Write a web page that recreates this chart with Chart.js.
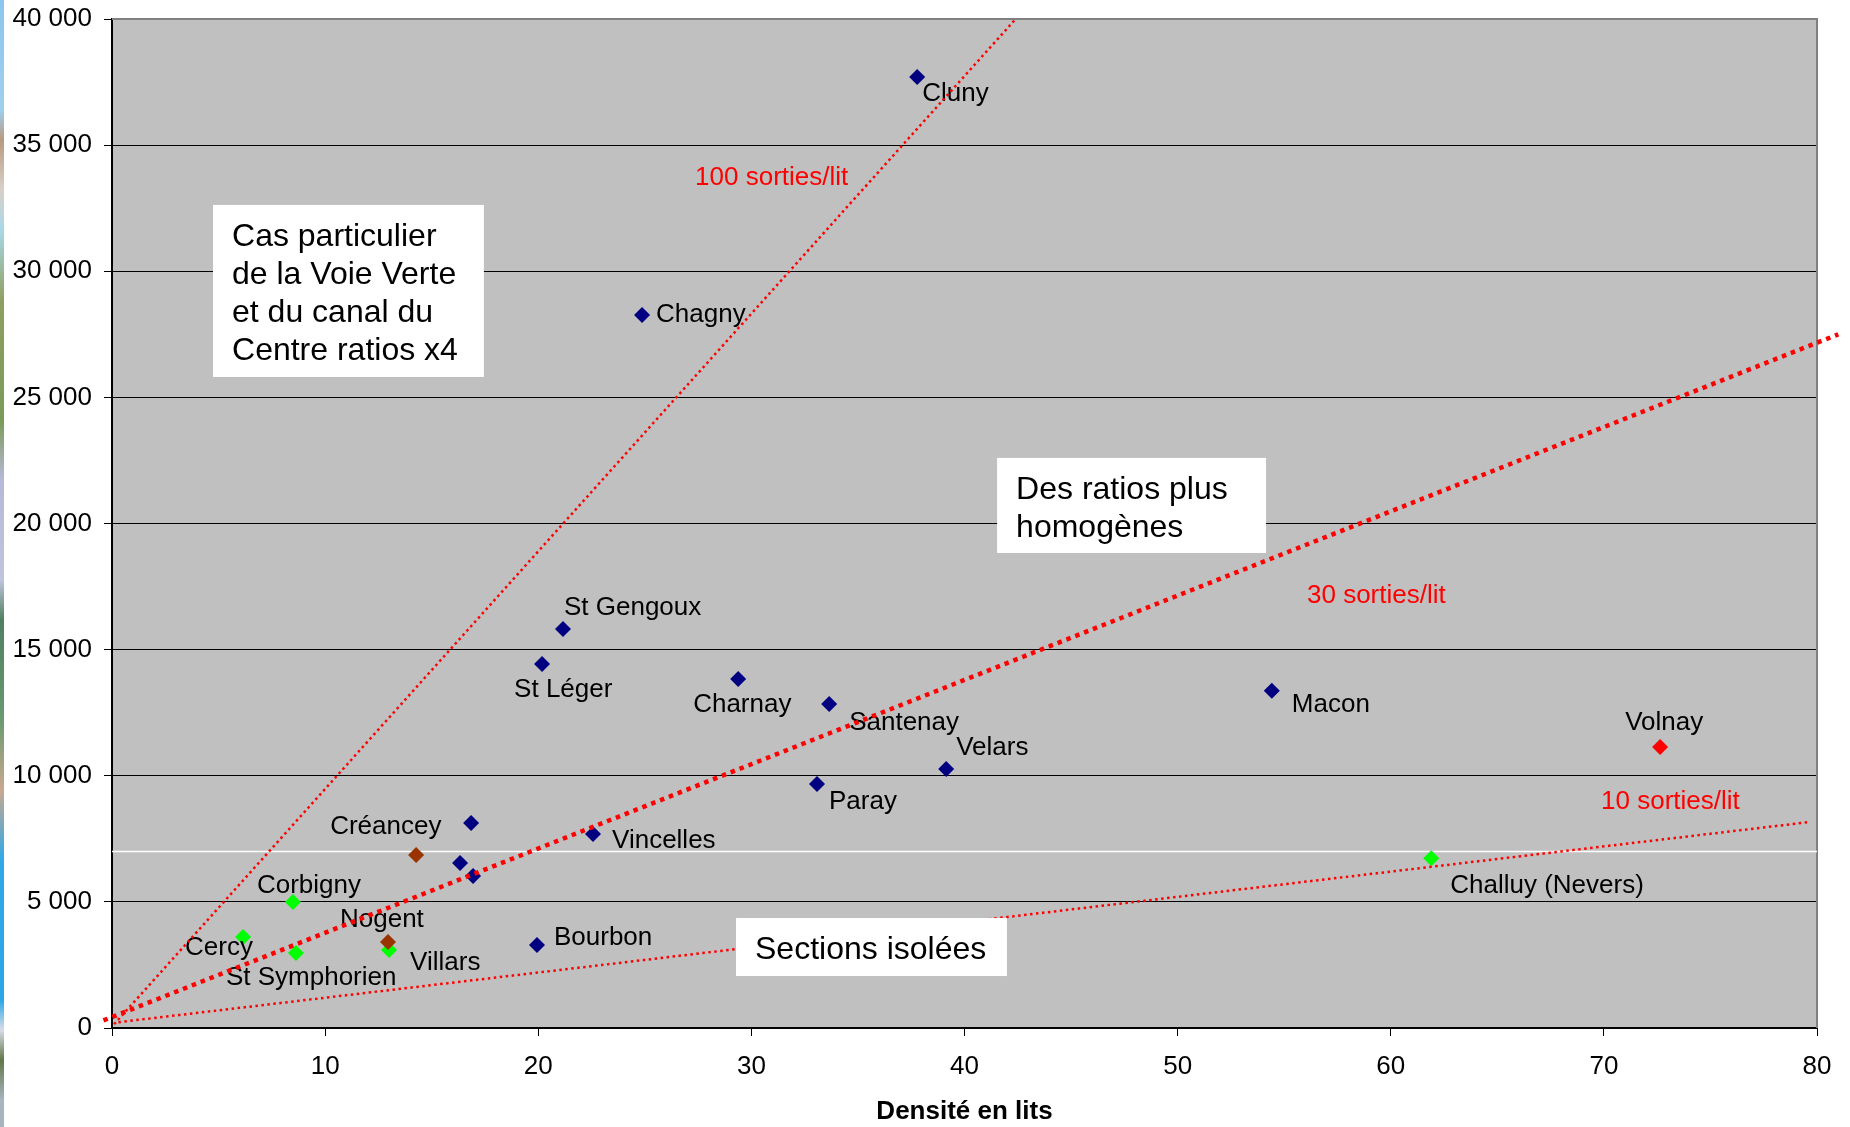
<!DOCTYPE html>
<html lang="fr">
<head>
<meta charset="utf-8">
<title>Sorties par lit</title>
<script src="https://cdn.jsdelivr.net/npm/chart.js@4.4.1/dist/chart.umd.min.js"></script>
<style>
  html, body { margin: 0; padding: 0; background: #fff; }
  #wrap { position: relative; width: 1850px; height: 1127px; }
  #bord {
    position: absolute; left: 0; top: 0; width: 4px; height: 1127px;
    background: linear-gradient(to bottom, #8cc6ee 0px, #9fcfee 110px, #b89a80 140px, #d8d0c8 190px,
      #a8d8e8 230px, #8fa060 300px, #7a9a58 420px, #b8b8d8 480px, #c0c4dc 580px, #4f7f60 620px,
      #6a9a70 720px, #c8a890 790px, #30a8e8 860px, #2aa6e6 1000px, #d8dce8 1030px, #607848 1060px,
      #a8b4c0 1100px, #a8b4c0 1127px);
  }
</style>
</head>
<body>
<div id="wrap">
  <canvas id="myChart" width="1850" height="1127"></canvas>
  <div id="bord"></div>
</div>
<script>
// sites, densite en lits (x) et sorties (y)
const sites = ['Cluny', 'Chagny', 'St Gengoux', 'St Léger', 'Charnay', 'Santenay', 'Macon', 'Velars',
  'Paray', 'Vincelles', '', '', '', 'Bourbon', 'Créancey', 'Nogent', 'Corbigny', 'Cercy',
  'St Symphorien', 'Villars', 'Challuy (Nevers)', 'Volnay'];
const lits = [37.78, 24.87, 21.16, 20.18, 29.38, 33.65, 54.42, 39.14, 33.08, 22.57, 16.85, 16.33,
  16.94, 19.94, 14.27, 12.95, 8.49, 6.15, 8.63, 13.0, 61.9, 72.64];
const sorties = [37700, 28270, 15820, 14430, 13840, 12840, 13370, 10270, 9670, 7690, 8130, 6540,
  6030, 3290, 6860, 3410, 5000, 3610, 2970, 3090, 6730, 11140];
const groupes = ['bleu', 'bleu', 'bleu', 'bleu', 'bleu', 'bleu', 'bleu', 'bleu', 'bleu', 'bleu',
  'bleu', 'bleu', 'bleu', 'bleu', 'brun', 'brun', 'vert', 'vert', 'vert', 'vert', 'vert', 'rouge'];

// droites de ratio (extremites)
const ratio100X = [0.1, 42.4];
const ratio100Y = [150, 40000];
const ratio30X = [-0.4, 81.0];
const ratio30Y = [300, 27500];
const ratio10X = [0.3, 79.7];
const ratio10Y = [230, 8170];
const seuilX = [0, 80];
const seuilY = [7000, 7000];

const xTicks = [0, 10, 20, 30, 40, 50, 60, 70, 80];
const yTicks = [0, 5000, 10000, 15000, 20000, 25000, 30000, 35000, 40000];

const couleurs = { bleu: '#000080', brun: '#993300', vert: '#00ff00', rouge: '#ff0000' };

// decalage des etiquettes par rapport au point (px)
const decalages = {
  'Cluny': [5, 17], 'Chagny': [14, 0], 'St Gengoux': [1, -21], 'St Léger': [-28, 26],
  'Charnay': [-45, 26], 'Santenay': [20, 19], 'Macon': [20, 14], 'Velars': [10, -21],
  'Paray': [12, 18], 'Vincelles': [19, 7], 'Bourbon': [17, -7], 'Créancey': [-86, -28],
  'Nogent': [-48, -22], 'Corbigny': [-36, -16], 'Cercy': [-58, 11], 'St Symphorien': [-70, 25],
  'Villars': [21, 13], 'Challuy (Nevers)': [19, 28], 'Volnay': [-35, -24]
};

const encadres = [
  { lignes: ['Cas particulier', 'de la Voie Verte', 'et du canal du', 'Centre ratios x4'], x0: 4.74, x1: 17.45, y0: 32630, y1: 25810 },
  { lignes: ['Des ratios plus', 'homogènes'], x0: 41.53, x1: 54.15, y0: 22600, y1: 18830 },
  { lignes: ['Sections isolées'], x0: 29.28, x1: 41.99, y0: 4360, y1: 2060 }
];
const textesRatio = [
  { texte: '100 sorties/lit', x: 27.36, y: 33700 },
  { texte: '30 sorties/lit', x: 56.07, y: 17130 },
  { texte: '10 sorties/lit', x: 69.87, y: 8960 }
];

const police = '"Liberation Sans", Arial, sans-serif';
Chart.defaults.font.family = police;
Chart.defaults.color = '#000';

function serie(g) {
  let data = [], noms = [];
  sites.forEach((s, i) => {
    if (groupes[i] === g) {
      data.push({ x: lits[i], y: sorties[i] });
      noms.push(s);
    }
  });
  return {
    data: data, noms: noms, order: 3,
    pointStyle: 'rectRot', pointRadius: 8, borderWidth: 0,
    backgroundColor: couleurs[g], borderColor: couleurs[g]
  };
}

function droite(xs, ys, largeur, tirets, couleur) {
  return {
    data: xs.map((x, i) => ({ x: x, y: ys[i] })),
    showLine: true, pointRadius: 0, borderColor: couleur, borderWidth: largeur,
    borderDash: tirets, clip: false, order: 1
  };
}

const etiquettes = {
  id: 'etiquettes',
  afterDatasetDraw(chart, args) {
    const ds = chart.data.datasets[args.index];
    if (!ds.noms) return;
    const c = chart.ctx;
    c.save();
    c.font = '26px ' + police;
    c.fillStyle = '#000';
    c.textBaseline = 'middle';
    args.meta.data.forEach((pt, i) => {
      const nom = ds.noms[i];
      if (!nom) return;
      const d = decalages[nom] || [15, 0];
      c.fillText(nom, pt.x + d[0], pt.y + d[1]);
    });
    c.restore();
  }
};

const decor = {
  id: 'decor',
  beforeDraw(chart) {
    const a = chart.chartArea, c = chart.ctx;
    c.save();
    c.fillStyle = '#c0c0c0';
    c.fillRect(a.left, a.top, a.right - a.left, a.bottom - a.top);
    c.restore();
  },
  beforeDatasetsDraw(chart) {
    const a = chart.chartArea, c = chart.ctx;
    c.save();
    c.strokeStyle = '#808080';
    c.lineWidth = 2;
    c.beginPath();
    c.moveTo(a.left, a.top);
    c.lineTo(a.right, a.top);
    c.lineTo(a.right, a.bottom);
    c.stroke();
    c.restore();
  },
  afterDraw(chart) {
    const c = chart.ctx, sx = chart.scales.x, sy = chart.scales.y;
    c.save();
    c.textBaseline = 'middle';
    encadres.forEach(b => {
      const l = sx.getPixelForValue(b.x0), r = sx.getPixelForValue(b.x1);
      const t = sy.getPixelForValue(b.y0), bas = sy.getPixelForValue(b.y1);
      c.fillStyle = '#fff';
      c.fillRect(l, t, r - l, bas - t);
      c.fillStyle = '#000';
      c.font = '32px ' + police;
      b.lignes.forEach((ligne, i) => c.fillText(ligne, l + 19, t + 32 + i * 38));
    });
    c.fillStyle = '#ff0000';
    c.font = '26px ' + police;
    textesRatio.forEach(t => c.fillText(t.texte, sx.getPixelForValue(t.x), sy.getPixelForValue(t.y)));
    c.restore();
  }
};

let seuil = droite(seuilX, seuilY, 1.5, [], '#ffffff');
seuil.clip = undefined;
seuil.order = 5;

let myChart = new Chart(document.getElementById('myChart').getContext('2d'), {
  type: 'scatter',
  data: {
    datasets: [
      seuil,
      serie('bleu'),
      serie('brun'),
      serie('vert'),
      serie('rouge'),
      droite(ratio100X, ratio100Y, 2.5, [2.5, 3.3], '#ff0000'),
      droite(ratio30X, ratio30Y, 4.5, [4.5, 5], '#ff0000'),
      droite(ratio10X, ratio10Y, 2.5, [2.5, 3.5], '#ff0000')
    ]
  },
  options: {
    responsive: false,
    animation: false,
    events: [],
    layout: { padding: { top: 19, right: 33, bottom: 0, left: 0 } },
    plugins: { legend: { display: false }, tooltip: { enabled: false } },
    scales: {
      x: {
        type: 'linear', min: 0, max: 80,
        afterBuildTicks: s => { s.ticks = xTicks.map(v => ({ value: v })); },
        afterFit: s => { s.height = 99; },
        grid: { drawOnChartArea: false, drawTicks: true, tickLength: 8, color: '#000', lineWidth: 1 },
        border: { color: '#000', width: 2 },
        ticks: { font: { size: 26 }, color: '#000', padding: 15, maxRotation: 0, autoSkip: false },
        title: { display: true, text: 'Densité en lits', font: { size: 26, weight: 'bold' }, color: '#000', padding: 0 }
      },
      y: {
        type: 'linear', min: 0, max: 40000,
        afterBuildTicks: s => { s.ticks = yTicks.map(v => ({ value: v })); },
        afterFit: s => { s.width = 112; },
        grid: { color: '#000', lineWidth: 1, tickLength: 8 },
        border: { color: '#000', width: 2 },
        ticks: {
          font: { size: 26, lineHeight: 0.4 }, color: '#000', padding: 12,
          callback: v => String(v).replace(/\B(?=(\d{3})+(?!\d))/g, ' ')
        }
      }
    }
  },
  plugins: [decor, etiquettes]
});
</script>
</body>
</html>
